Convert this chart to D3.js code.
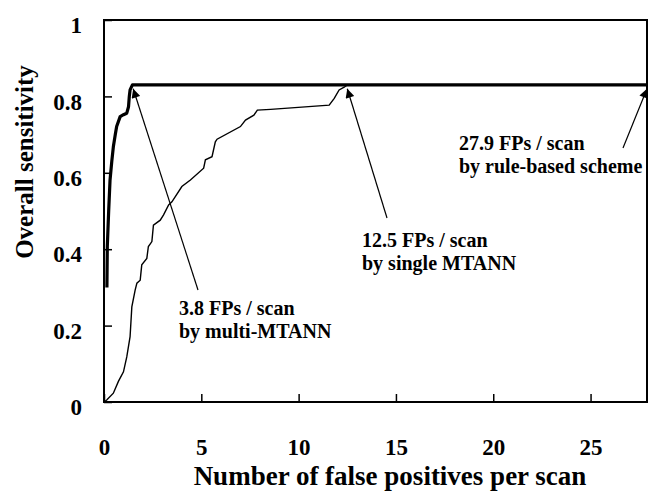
<!DOCTYPE html>
<html>
<head>
<meta charset="utf-8">
<script src="https://cdn.jsdelivr.net/npm/d3@7"></script>
<style>
  body { margin: 0; background: #fff; }
  text { font-family: "Liberation Serif", "Times New Roman", serif; font-weight: bold; }
</style>
</head>
<body>
<div id="container"></div>
<script>
let w = 648;
let h = 493;

// curves
let multiFP   = [0.15, 0.17, 0.24, 0.31, 0.40, 0.48, 0.58, 0.65, 0.83, 1.00, 1.17, 1.26, 1.30, 1.34, 1.46, 27.9];
let multiSens = [0.30, 0.407, 0.50, 0.581, 0.63, 0.668, 0.70, 0.721, 0.747, 0.752, 0.756, 0.773, 0.80, 0.817, 0.83, 0.83];

let singleFP   = [0, 0.14, 0.48, 0.74, 1.0, 1.17, 1.34, 1.43, 1.6, 1.69, 1.86, 1.94, 2.2, 2.28, 2.46, 2.54, 2.89, 3.06, 3.32, 3.49, 4.0, 4.44, 5.12, 5.21, 5.55, 5.72, 5.81, 7.01, 7.27, 7.7, 7.88, 8.56, 11.57, 11.83, 12.08, 12.34, 12.5];
let singleSens = [0, 0.005, 0.023, 0.054, 0.079, 0.118, 0.171, 0.249, 0.293, 0.311, 0.319, 0.359, 0.376, 0.407, 0.42, 0.463, 0.476, 0.49, 0.516, 0.524, 0.564, 0.581, 0.612, 0.634, 0.642, 0.681, 0.688, 0.721, 0.738, 0.751, 0.764, 0.766, 0.777, 0.795, 0.817, 0.824, 0.83];

let xTicks = [0, 5, 10, 15, 20, 25];
let yTicks = [0, 0.2, 0.4, 0.6, 0.8, 1];

// annotation text and where each arrow points (fp, sensitivity)
let noteLines1 = ["3.8 FPs / scan", "by multi-MTANN"];
let noteLines2 = ["12.5 FPs / scan", "by single MTANN"];
let noteLines3 = ["27.9 FPs / scan", "by rule-based scheme"];
let noteTipFP   = [1.5, 12.5, 27.9];
let noteTipSens = [0.82, 0.82, 0.82];

let plotLeft = 104, plotRight = 647, plotTop = 20, plotBottom = 402;

let viz = d3.select("#container")
  .append("svg")
    .attr("width", w)
    .attr("height", h)
;

let xScale = d3.scaleLinear().domain([0, 27.9]).range([plotLeft, plotRight]);
let yScale = d3.scaleLinear().domain([0, 1]).range([plotBottom, plotTop]);

// arrow head
viz.append("defs").append("marker")
    .attr("id", "head")
    .attr("viewBox", "0 0 10 10")
    .attr("refX", 10)
    .attr("refY", 5)
    .attr("markerWidth", 12)
    .attr("markerHeight", 9)
    .attr("markerUnits", "userSpaceOnUse")
    .attr("orient", "auto")
  .append("path")
    .attr("d", "M0,0 L10,5 L0,10 z")
    .attr("fill", "black")
;

// axes, ticks point into the plot
let xAxis = d3.axisBottom(xScale).tickValues(xTicks).tickSize(-8).tickPadding(37).tickFormat(d3.format("d"));
let xAxisGroup = viz.append("g")
  .attr("transform", "translate(0," + plotBottom + ")")
  .call(xAxis);
xAxisGroup.select(".domain").remove();
xAxisGroup.selectAll("line").attr("stroke", "black").attr("stroke-width", 1.5);
xAxisGroup.selectAll("text").attr("font-size", 23).attr("fill", "black")
  .attr("font-family", "Liberation Serif, serif").attr("font-weight", "bold");

let yAxis = d3.axisLeft(yScale).tickValues(yTicks).tickSize(-8).tickPadding(22)
  .tickFormat(function(d){ return d == 0 || d == 1 ? d : d3.format(".1f")(d); });
let yAxisGroup = viz.append("g")
  .attr("transform", "translate(" + plotLeft + ",0)")
  .call(yAxis);
yAxisGroup.select(".domain").remove();
yAxisGroup.selectAll("line").attr("stroke", "black").attr("stroke-width", 1.5);
yAxisGroup.selectAll("text").attr("font-size", 23).attr("fill", "black").attr("dy", "0.55em")
  .attr("font-family", "Liberation Serif, serif").attr("font-weight", "bold");

// frame
viz.append("rect")
  .attr("x", plotLeft)
  .attr("y", plotTop)
  .attr("width", plotRight - plotLeft)
  .attr("height", plotBottom - plotTop)
  .attr("fill", "none")
  .attr("stroke", "black")
  .attr("stroke-width", 2)
;

let line = d3.line()
  .x(function(d){ return xScale(d[0]); })
  .y(function(d){ return yScale(d[1]); });

viz.append("path")
  .datum(d3.zip(singleFP, singleSens))
  .attr("d", line)
  .attr("fill", "none")
  .attr("stroke", "black")
  .attr("stroke-width", 1.4)
;

viz.append("path")
  .datum(d3.zip(multiFP, multiSens))
  .attr("d", line)
  .attr("fill", "none")
  .attr("stroke", "black")
  .attr("stroke-width", 3.2)
  .attr("stroke-linejoin", "round")
;

// annotations: tail of arrow and text placement in pixels
let notes = [
  { lines: noteLines1, tailX: 198, tailY: 290, textX: 179, textY: 315 },
  { lines: noteLines2, tailX: 387, tailY: 218, textX: 362, textY: 247 },
  { lines: noteLines3, tailX: 623, tailY: 148, textX: 459, textY: 150 }
];

notes.forEach(function(n, i){
  viz.append("line")
    .attr("x1", n.tailX)
    .attr("y1", n.tailY)
    .attr("x2", xScale(noteTipFP[i]))
    .attr("y2", yScale(noteTipSens[i]))
    .attr("stroke", "black")
    .attr("stroke-width", 1.2)
    .attr("marker-end", "url(#head)")
  ;
  let t = viz.append("text")
    .attr("x", n.textX)
    .attr("y", n.textY)
    .attr("font-size", 20)
    .attr("fill", "black")
  ;
  n.lines.forEach(function(s, j){
    t.append("tspan").attr("x", n.textX).attr("dy", j == 0 ? 0 : 22.5).text(s);
  });
});

// axis titles
viz.append("text")
  .text("Number of false positives per scan")
  .attr("x", 390)
  .attr("y", 485)
  .attr("text-anchor", "middle")
  .attr("font-size", 27)
  .attr("fill", "black")
;

viz.append("text")
  .text("Overall sensitivity")
  .attr("transform", "translate(33,162) rotate(-90)")
  .attr("text-anchor", "middle")
  .attr("font-size", 25)
  .attr("fill", "black")
;
</script>
</body>
</html>
